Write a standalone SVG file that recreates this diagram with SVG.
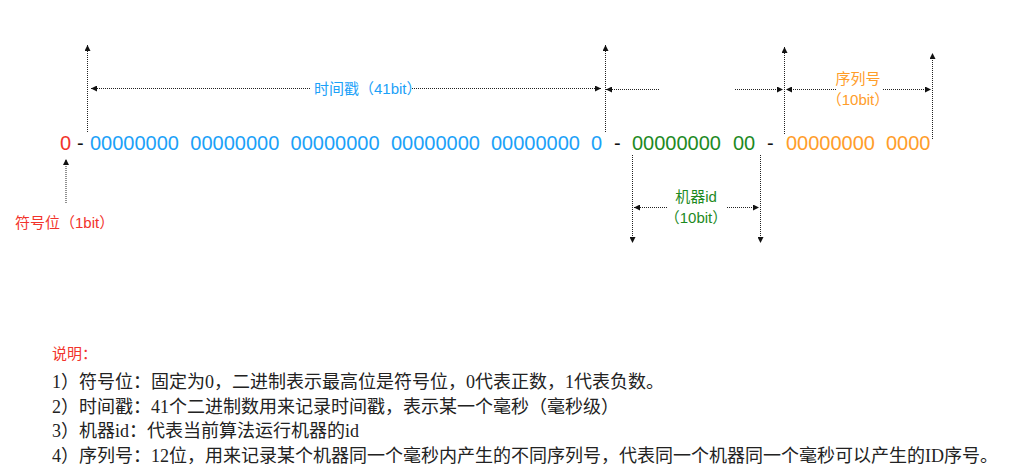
<svg xmlns="http://www.w3.org/2000/svg" width="1017" height="475" viewBox="0 0 1017 475">
<style>
  .bits { font-family: "Liberation Sans", Arial, sans-serif; font-size: 20px; }
  .lbl { font-family: "Liberation Sans", "Noto Sans CJK SC", sans-serif; font-size: 15px; }
  .note { font-family: "Liberation Serif", "Noto Sans CJK SC", serif; font-size: 18px; fill: #222; }
  .red { fill: #f2332b; }
  .blue { fill: #1ba1f8; }
  .green { fill: #1d8a1f; }
  .orange { fill: #ff9d2a; }
  .dash { fill: #111; }
  .conn line { stroke: #222; stroke-width: 1; stroke-dasharray: 1 1; fill: none; marker-end: url(#ah); }
</style>
<defs>
  <marker id="ah" markerUnits="userSpaceOnUse" markerWidth="7" markerHeight="6" refX="6" refY="3" orient="auto">
    <path d="M0,0 L6,3 L0,6 z" fill="#111"/>
  </marker>
</defs>
<rect width="1017" height="475" fill="#ffffff"/>

<g id="sign-bit">
  <text class="bits red" x="60" y="150">0</text>
  <text class="lbl red" x="15" y="228">符号位（1bit）</text>
</g>
<text class="bits dash" x="77" y="150">-</text>

<g id="timestamp">
  <text class="bits blue" x="90" y="150">00000000</text>
  <text class="bits blue" x="190.3" y="150">00000000</text>
  <text class="bits blue" x="290.6" y="150">00000000</text>
  <text class="bits blue" x="391" y="150">00000000</text>
  <text class="bits blue" x="491" y="150">00000000</text>
  <text class="bits blue" x="591" y="150">0</text>
  <text class="lbl blue" x="314" y="94">时间戳（41bit）</text>
</g>
<text class="bits dash" x="614" y="150">-</text>

<g id="machine-id">
  <text class="bits green" x="632" y="150">00000000</text>
  <text class="bits green" x="733" y="150">00</text>
  <text class="lbl green" x="696" y="202" text-anchor="middle">机器id</text>
  <text class="lbl green" x="696" y="223" text-anchor="middle">（10bit）</text>
</g>
<text class="bits dash" x="767" y="150">-</text>

<g id="sequence">
  <text class="bits orange" x="786" y="150">00000000</text>
  <text class="bits orange" x="886" y="150">0000</text>
  <text class="lbl orange" x="858" y="84" text-anchor="middle">序列号</text>
  <text class="lbl orange" x="858" y="104.5" text-anchor="middle">（10bit）</text>
</g>

<g id="connectors" class="conn">
  <line x1="87.5" y1="132" x2="87.5" y2="45"/>
  <line x1="310" y1="88.5" x2="91" y2="88.5"/>
  <line x1="412" y1="88.5" x2="601" y2="88.5"/>
  <line x1="605.5" y1="132" x2="605.5" y2="45"/>
  <line x1="659" y1="89.5" x2="606" y2="89.5"/>
  <line x1="735" y1="89.5" x2="783" y2="89.5"/>
  <line x1="784.5" y1="134" x2="784.5" y2="47"/>
  <line x1="836" y1="89.5" x2="786" y2="89.5"/>
  <line x1="883" y1="89.5" x2="931" y2="89.5"/>
  <line x1="932.5" y1="139" x2="932.5" y2="53"/>
  <line x1="632.5" y1="155" x2="632.5" y2="243"/>
  <line x1="667" y1="207.5" x2="634" y2="207.5"/>
  <line x1="727" y1="207.5" x2="759" y2="207.5"/>
  <line x1="760.5" y1="155" x2="760.5" y2="243"/>
  <line x1="66" y1="203" x2="66" y2="159"/>
</g>

<g id="legend">
  <text class="lbl red" x="52" y="358.5">说明：</text>
  <text class="note" x="52" y="387.5">1）符号位：固定为0，二进制表示最高位是符号位，0代表正数，1代表负数。</text>
  <text class="note" x="52" y="412.5">2）时间戳：41个二进制数用来记录时间戳，表示某一个毫秒（毫秒级）</text>
  <text class="note" x="52" y="437">3）机器id：代表当前算法运行机器的id</text>
  <text class="note" x="52" y="461.5">4）序列号：12位，用来记录某个机器同一个毫秒内产生的不同序列号，代表同一个机器同一个毫秒可以产生的ID序号。</text>
</g>
</svg>
